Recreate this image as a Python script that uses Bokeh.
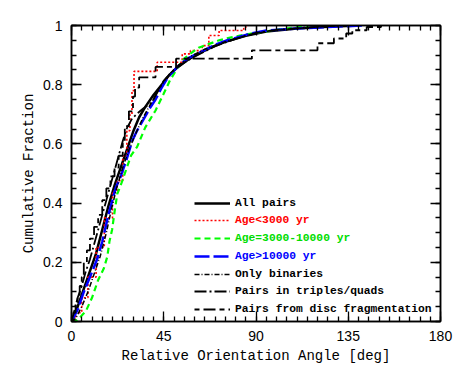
from bokeh.plotting import figure
from bokeh.models import Range1d, FixedTicker, LinearAxis, Legend, LegendItem, CustomJSTickFormatter
from bokeh.embed import file_html
from bokeh.resources import INLINE

# ---------------- data ----------------
x_ticks = [0, 45, 90, 135, 180]
x_minor = list(range(0, 181, 5))
y_ticks = [0, 0.2, 0.4, 0.6, 0.8, 1.0]
y_minor = [0, 0.05, 0.1, 0.15, 0.2, 0.25, 0.3, 0.35, 0.4, 0.45, 0.5, 0.55,
           0.6, 0.65, 0.7, 0.75, 0.8, 0.85, 0.9, 0.95, 1.0]

labels = ["All pairs", "Age<3000 yr", "Age=3000-10000 yr", "Age>10000 yr",
          "Only binaries", "Pairs in triples/quads", "Pairs from disc fragmentation"]

all_x = [0, 3, 6, 9, 12, 15, 18, 21, 24, 27, 30, 33, 36, 40, 44, 48, 52, 57, 62, 68, 75, 85, 95, 110, 125, 140]
all_y = [0, 0.05, 0.11, 0.17, 0.23, 0.31, 0.39, 0.46, 0.52, 0.58, 0.64, 0.69, 0.725, 0.765, 0.80, 0.835,
         0.86, 0.885, 0.905, 0.925, 0.945, 0.965, 0.98, 0.99, 0.996, 1.0]

young_x = [0, 2, 5, 8, 12, 16, 20, 22.3, 25, 27, 28.5, 29.5, 30.5, 41.8, 54, 58, 63.8, 67, 72, 84, 85]
young_y = [0, 0.03, 0.08, 0.15, 0.25, 0.35, 0.44, 0.476, 0.56, 0.645, 0.70, 0.78, 0.845, 0.876, 0.904,
           0.915, 0.932, 0.966, 0.983, 0.99, 1.0]

mid_x = [0, 2.8, 5, 7, 10, 13, 15.8, 17.5, 18.5, 19.8, 21, 22.3, 24.5, 27, 29, 32, 36, 41, 45, 48, 52,
         55, 58, 62, 66, 72, 78, 87, 100, 112, 116]
mid_y = [0, 0.005, 0.02, 0.035, 0.08, 0.14, 0.18, 0.22, 0.27, 0.31, 0.37, 0.43, 0.47, 0.52, 0.56, 0.59,
         0.656, 0.713, 0.77, 0.814, 0.86, 0.888, 0.905, 0.925, 0.935, 0.95, 0.96, 0.972, 0.985, 0.996, 1.0]

old_x = [0, 3, 6, 9, 12.5, 15, 18, 21.5, 24, 27, 29.6, 32, 34.5, 38.5, 41, 44, 47, 51.6, 57, 63, 70,
         76, 87, 95, 110, 125, 142]
old_y = [0, 0.04, 0.10, 0.15, 0.21, 0.27, 0.36, 0.45, 0.49, 0.55, 0.61, 0.645, 0.675, 0.724, 0.75,
         0.79, 0.825, 0.86, 0.89, 0.91, 0.935, 0.95, 0.972, 0.983, 0.99, 0.995, 1.0]

bin_x = [0, 2, 5, 8, 11, 14, 17, 19.5, 22, 25, 28, 31, 35, 39, 43, 47, 52, 58, 65, 75, 85, 95, 110, 125, 135]
bin_y = [0, 0.01, 0.05, 0.10, 0.16, 0.22, 0.30, 0.38, 0.45, 0.52, 0.58, 0.63, 0.69, 0.74, 0.79, 0.83,
         0.865, 0.895, 0.92, 0.945, 0.965, 0.98, 0.99, 0.997, 1.0]

trip_x = [0, 1.5, 3, 5, 7, 9, 11, 13, 15, 17, 19, 21, 23, 25, 27.2, 29.6, 32.8, 35, 38.5, 40, 45, 50,
          55, 60, 70, 80, 90, 100, 115, 130]
trip_y = [0, 0.04, 0.08, 0.12, 0.17, 0.21, 0.26, 0.31, 0.36, 0.41, 0.46, 0.51, 0.56, 0.61, 0.656,
          0.686, 0.707, 0.72, 0.736, 0.75, 0.814, 0.85, 0.875, 0.895, 0.93, 0.955, 0.975, 0.985, 0.993, 1.0]

disc_x = [0, 1, 2, 3, 4, 5, 6, 7.5, 9, 11, 13, 15, 17, 19, 21, 23, 25, 26, 28, 30, 31, 33, 41, 51,
          88, 120, 128, 134, 137, 144, 151]
disc_y = [0, 0.03, 0.06, 0.09, 0.12, 0.15, 0.20, 0.24, 0.28, 0.32, 0.36, 0.41, 0.45, 0.49, 0.52, 0.56,
          0.61, 0.66, 0.71, 0.76, 0.79, 0.825, 0.86, 0.888, 0.916, 0.94, 0.956, 0.973, 0.984, 0.995, 1.0]

# ---------------- figure ----------------
p = figure(width=458, height=368, x_range=Range1d(0, 180), y_range=Range1d(0, 1),
           output_backend="svg", toolbar_location=None,
           min_border_left=71, min_border_right=18, min_border_top=25, min_border_bottom=47)
p.grid.visible = False
p.outline_line_color = "black"
p.outline_line_width = 1.5
p.background_fill_color = "white"
p.border_fill_color = "white"

xt = FixedTicker(ticks=x_ticks, minor_ticks=x_minor)
yt = FixedTicker(ticks=y_ticks, minor_ticks=y_minor)

def style_axis(ax, show_labels):
    ax.axis_line_color = "black"
    ax.axis_line_width = 1.5
    ax.major_tick_in = 10
    ax.major_tick_out = 0
    ax.minor_tick_in = 5
    ax.minor_tick_out = 0
    ax.major_tick_line_color = "black"
    ax.minor_tick_line_color = "black"
    ax.major_tick_line_width = 1.3
    ax.minor_tick_line_width = 1.3
    if show_labels:
        ax.major_label_text_font = "Liberation Sans"
        ax.major_label_text_font_size = "14px"
        ax.major_label_text_color = "black"
        ax.axis_label_text_font = "Liberation Mono"
        ax.axis_label_text_font_size = "14px"
        ax.axis_label_text_font_style = "normal"
        ax.axis_label_text_color = "black"
    else:
        ax.formatter = CustomJSTickFormatter(code="return ''")
        ax.major_label_standoff = 0

xa = p.xaxis[0]
xa.ticker = xt
xa.axis_label = "Relative Orientation Angle [deg]"
style_axis(xa, True)
xa.major_label_standoff = 9
xa.axis_label_standoff = 4

ya = p.yaxis[0]
ya.ticker = yt
ya.axis_label = "Cumulative Fraction"
style_axis(ya, True)
ya.major_label_standoff = 9
ya.axis_label_standoff = 3
ya.major_label_overrides = {0: "0", 1: "1"}

top = LinearAxis(ticker=FixedTicker(ticks=x_ticks, minor_ticks=x_minor))
style_axis(top, False)
p.add_layout(top, "above")
right = LinearAxis(ticker=FixedTicker(ticks=y_ticks, minor_ticks=y_minor))
style_axis(right, False)
p.add_layout(right, "right")

# ---------------- curves ----------------
r_all = p.line(all_x, all_y, line_color="black", line_width=2.5)
r_young = p.step(young_x, young_y, mode="after", line_color="#ff0000", line_width=1.6, line_dash="2 2")
r_mid = p.line(mid_x, mid_y, line_color="#00ff00", line_width=2.2, line_dash="6 4")
r_old = p.line(old_x, old_y, line_color="#0000ff", line_width=2.5, line_dash="15 4")
r_bin = p.line(bin_x, bin_y, line_color="black", line_width=1.5, line_dash="5 2 1 2")
r_trip = p.line(trip_x, trip_y, line_color="black", line_width=1.8, line_dash="12 3 2 3")
r_disc = p.step(disc_x, disc_y, mode="after", line_color="black", line_width=1.8, line_dash="5 4 12 4")

rends = [r_all, r_young, r_mid, r_old, r_bin, r_trip, r_disc]
colors = ["black", "#ff0000", "#00dd00", "#0000ff", "black", "black", "black"]

for i, (r, lab, col) in enumerate(zip(rends, labels, colors)):
    leg = Legend(items=[LegendItem(label=lab, renderers=[r])],
                 location=(123, 111.3 - 17.7 * i),
                 glyph_width=36, glyph_height=14, label_height=14, label_standoff=5,
                 padding=0, margin=0, spacing=0,
                 border_line_alpha=0, background_fill_alpha=0,
                 label_text_font="Liberation Mono", label_text_font_size="11.3px",
                 label_text_font_style="bold", label_text_color=col)
    p.add_layout(leg)

open("out.html", "w").write(file_html(p, INLINE))
